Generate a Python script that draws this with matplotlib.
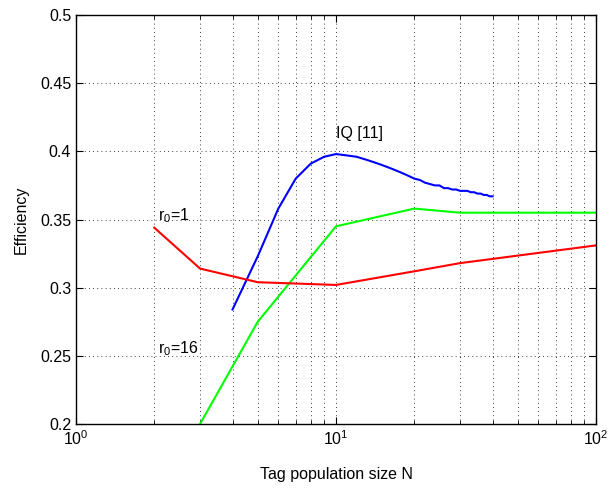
import numpy as np
import matplotlib
matplotlib.use('Agg')
import matplotlib.pyplot as plt
from matplotlib.ticker import LogLocator, NullFormatter, MultipleLocator

plt.rcParams['font.family'] = ['Liberation Sans', 'DejaVu Sans']
plt.rcParams['mathtext.fontset'] = 'custom'
plt.rcParams['mathtext.rm'] = 'Liberation Sans'
plt.rcParams['mathtext.it'] = 'Liberation Sans'

# 数据
n_r1 = [2, 3, 5, 10, 20, 30, 100]
eff_r1 = [0.344, 0.314, 0.304, 0.302, 0.312, 0.318, 0.331]

n_r16 = [3, 5, 10, 20, 30, 100]
eff_r16 = [0.200, 0.275, 0.345, 0.358, 0.355, 0.355]

n_iq = list(range(4, 41))
eff_iq = [0.284, 0.323, 0.358, 0.380, 0.391, 0.396, 0.398, 0.397, 0.396, 0.394,
          0.392, 0.390, 0.388, 0.386, 0.384, 0.382, 0.380, 0.379, 0.377, 0.376,
          0.375, 0.375, 0.373, 0.373, 0.372, 0.372, 0.371, 0.371, 0.371, 0.370,
          0.370, 0.369, 0.369, 0.368, 0.368, 0.367, 0.367]

fig = plt.figure(figsize=(6.16, 4.9), dpi=100)
ax = fig.add_axes([76/616, 1-424/490, 520/616, 409/490])

ax.plot(n_iq, eff_iq, color=(0, 0, 1), lw=1.5)
ax.plot(n_r16, eff_r16, color=(0, 1, 0), lw=1.5)
ax.plot(n_r1, eff_r1, color=(1, 0, 0), lw=1.5)

ax.set_xscale('log')
ax.set_xlim(1, 100)
ax.set_ylim(0.2, 0.5)
ax.yaxis.set_major_locator(MultipleLocator(0.05))
ax.set_yticks([0.2, 0.25, 0.3, 0.35, 0.4, 0.45, 0.5])
ax.set_yticklabels(['0.2', '0.25', '0.3', '0.35', '0.4', '0.45', '0.5'])
ax.xaxis.set_minor_locator(LogLocator(base=10, subs=np.arange(2, 10)))
ax.xaxis.set_minor_formatter(NullFormatter())

# 网格（MATLAB风格点线）
ax.grid(True, which='major', axis='both', color='k', linestyle=(0, (1, 4)), lw=0.6)
ax.grid(True, which='minor', axis='x', color='k', linestyle=(0, (1, 4)), lw=0.6)

ax.tick_params(which='both', direction='in', top=True, right=True, labelsize=11.5)
ax.tick_params(which='major', length=5)
ax.tick_params(which='minor', length=3)
for s in ax.spines.values():
    s.set_linewidth(1.0)

ax.text(10, 0.413, 'IQ [11]', fontsize=11.5, va='center', ha='left')
ax.text(2.07, 0.353, r'r$_0$=1', fontsize=11.5, va='center', ha='left')
ax.text(2.07, 0.255, r'r$_0$=16', fontsize=11.5, va='center', ha='left')

ax.set_xlabel('Tag population size N', fontsize=11.5, labelpad=14)
ax.set_ylabel('Efficiency', fontsize=11.5, labelpad=8)

fig.savefig('out.png', dpi=100)
